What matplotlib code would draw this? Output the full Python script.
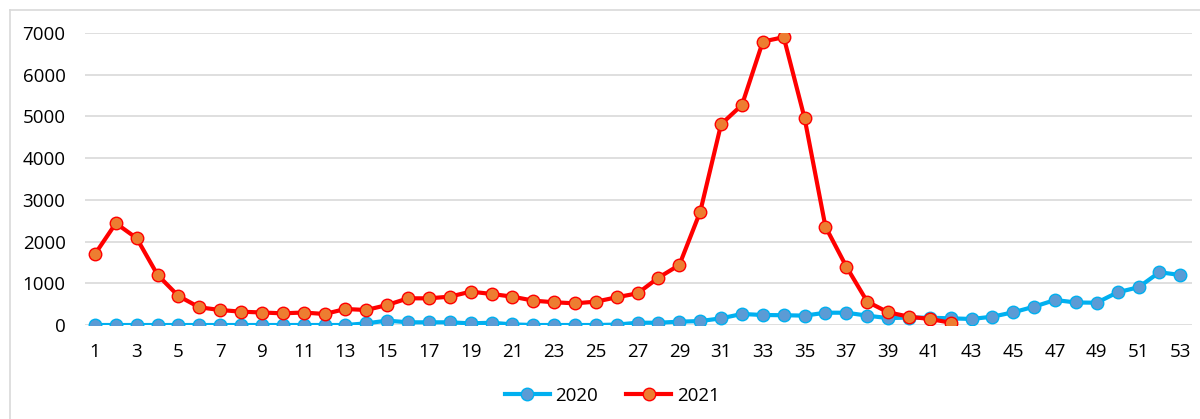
import matplotlib.pyplot as plt
from matplotlib.lines import Line2D

weeks_2020 = list(range(1, 54))
cases_2020 = [0, 0, 0, 0, 0, 0, 0, 0, 0, 0, 0, 0, 0, 40, 105, 65, 65, 65, 40, 55,
              15, 0, 0, 0, 0, 10, 55, 55, 80, 95, 160, 265, 240, 235, 225, 295, 295, 225, 165, 180,
              175, 160, 145, 200, 305, 440, 600, 540, 535, 785, 905, 1265, 1200]

weeks_2021 = list(range(1, 43))
cases_2021 = [1700, 2440, 2080, 1200, 695, 424, 360, 320, 300, 280, 300, 264, 384, 360, 480,
              640, 640, 680, 800, 745, 680, 585, 545, 520, 560, 665, 760, 1135, 1440, 2717,
              4813, 5276, 6795, 6900, 4957, 2357, 1400, 560, 305, 200, 145, 55]

xtick_labels = [str(w) for w in range(1, 54, 2)]

plt.rcParams['font.family'] = ['Open Sans', 'DejaVu Sans']

fig = plt.figure(figsize=(12, 4.19), dpi=100)
ax = fig.add_axes([0.0708, 0.2243, 0.9225, 0.6969])

ax.plot(weeks_2020, cases_2020, color='#00B0F0', lw=3, marker='o', ms=9,
        mfc='#5B9BD5', mec='#00B0F0', mew=1, label='2020', zorder=3)
ax.plot(weeks_2021, cases_2021, color='#FF0000', lw=3, marker='o', ms=9,
        mfc='#ED7D31', mec='#FF0000', mew=1, label='2021', zorder=4)

ax.set_xlim(0.52, 53.56)
ax.set_ylim(0, 7000)
ax.set_yticks(range(0, 7001, 1000))
ax.set_xticks(range(1, 54, 2))
ax.set_xticklabels(xtick_labels)
ax.tick_params(axis='both', length=0, labelsize=13.5, colors='black')
ax.tick_params(axis='y', pad=14)
ax.tick_params(axis='x', pad=13)
ax.grid(axis='y', color='#D9D9D9', lw=1.2)
ax.set_axisbelow(True)
for s in ax.spines.values():
    s.set_visible(False)

fig.legend(loc='center', bbox_to_anchor=(0.51, 0.055), ncol=2, frameon=False,
           fontsize=13.5, handlelength=2.4, columnspacing=1.5, handletextpad=0.3)

# outer chart border (left and top edges visible)
fig.add_artist(Line2D([10 / 1200, 10 / 1200], [0, 1 - 10 / 419], transform=fig.transFigure,
                      color='#D9D9D9', lw=1.2))
fig.add_artist(Line2D([10 / 1200, 1], [1 - 10 / 419, 1 - 10 / 419], transform=fig.transFigure,
                      color='#D9D9D9', lw=1.2))

fig.savefig('out.png', dpi=100)
